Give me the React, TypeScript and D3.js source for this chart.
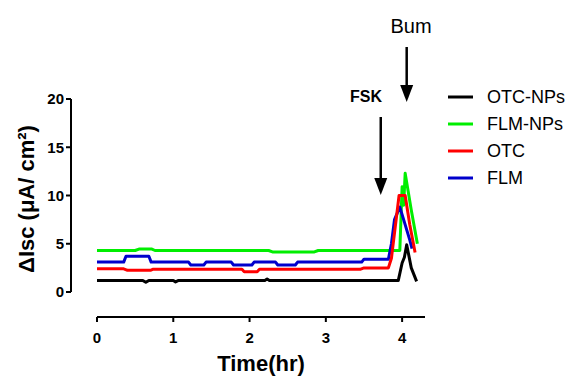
import React from "react";
import * as d3 from "d3";

type Pt = [number, number];

// time (hr), ΔIsc (μA/cm²)
const otcNps: Pt[] = [
  [0, 1.2], [0.6, 1.2], [0.64, 1.0], [0.68, 1.2], [1.0, 1.2], [1.03, 1.05], [1.07, 1.2],
  [2.2, 1.2], [2.23, 1.35], [2.26, 1.2], [3.95, 1.2], [4.0, 3.0], [4.03, 3.6],
  [4.06, 4.9], [4.12, 2.5], [4.19, 1.1],
];
const flmNps: Pt[] = [
  [0, 4.3], [0.5, 4.3], [0.55, 4.45], [0.72, 4.45], [0.76, 4.3], [2.25, 4.3], [2.3, 4.15],
  [2.85, 4.15], [2.9, 4.3], [3.97, 4.3], [4.0, 10.9], [4.02, 9.0], [4.04, 12.3],
  [4.12, 8.5], [4.2, 5.0],
];
const otc: Pt[] = [
  [0, 2.4], [0.35, 2.4], [0.4, 2.25], [0.7, 2.25], [0.73, 2.35], [1.9, 2.35], [1.93, 2.1],
  [2.1, 2.1], [2.13, 2.35], [3.45, 2.35], [3.5, 2.5], [3.82, 2.5], [3.86, 3.5],
  [3.96, 10.0], [4.04, 10.0], [4.1, 7.0], [4.17, 4.1],
];
const flm: Pt[] = [
  [0, 3.1], [0.35, 3.1], [0.38, 3.7], [0.68, 3.7], [0.71, 3.1], [1.2, 3.1], [1.23, 2.8],
  [1.4, 2.8], [1.43, 3.1], [1.76, 3.1], [1.79, 2.8], [2.03, 2.8], [2.06, 3.1],
  [2.34, 3.1], [2.37, 2.8], [2.6, 2.8], [2.63, 3.1], [3.47, 3.1], [3.5, 3.4],
  [3.82, 3.4], [3.86, 5.0], [3.9, 7.5], [3.97, 8.8], [4.02, 7.5], [4.1, 5.4], [4.13, 4.5],
];

const legendNames = ["OTC-NPs", "FLM-NPs", "OTC", "FLM"];
const colors = ["#000000", "#00ee00", "#ff0000", "#0000cc"];
const seriesData = [otcNps, flmNps, otc, flm];
const drawOrder = [1, 3, 2, 0];

const xTicks = [0, 1, 2, 3, 4];
const yTicks = [0, 5, 10, 15, 20];
const events = [
  { label: "FSK", t: 3.72, top: 117, tip: 195, textX: 366, textY: 102, bold: true, size: 16 },
  { label: "Bum", t: 4.06, top: 47, tip: 102, textX: 411, textY: 33, bold: false, size: 20 },
];

const App: React.FC = () => {
  const width = 570;
  const height = 376;
  const x = d3.scaleLinear().domain([0, 4.3]).range([97, 425]);
  const y = d3.scaleLinear().domain([0, 20]).range([292, 99]);
  const line = d3.line<Pt>().x(d => x(d[0])).y(d => y(d[1]));
  const axisX = 71;
  const axisY = 317;
  const font = "Arial, 'Liberation Sans', sans-serif";

  return (
    <svg width={width} height={height} style={{ position: "absolute", left: 0, top: 0 }}
      fontFamily={font}>
      <rect width={width} height={height} fill="#fff" />

      {/* y axis */}
      <line x1={axisX} x2={axisX} y1={y(0)} y2={y(20)} stroke="#000" strokeWidth={2} />
      {yTicks.map(t => (
        <g key={t}>
          <line x1={axisX - 5} x2={axisX} y1={y(t)} y2={y(t)} stroke="#000" strokeWidth={2} />
          <text x={axisX - 7} y={y(t)} dy="0.36em" textAnchor="end" fontSize={15}
            fontWeight="bold">{t}</text>
        </g>
      ))}

      {/* x axis */}
      <line x1={x(0)} x2={x(4.3)} y1={axisY} y2={axisY} stroke="#000" strokeWidth={2} />
      {xTicks.map(t => (
        <g key={t}>
          <line x1={x(t)} x2={x(t)} y1={axisY} y2={axisY + 5} stroke="#000" strokeWidth={2} />
          <text x={x(t)} y={axisY + 26} textAnchor="middle" fontSize={15}
            fontWeight="bold">{t}</text>
        </g>
      ))}

      <text x={261} y={371} textAnchor="middle" fontSize={22} fontWeight="bold">Time(hr)</text>
      <text transform={`translate(34,199) rotate(-90)`} textAnchor="middle" fontSize={22}
        fontWeight="bold">ΔIsc (μA/ cm²)</text>

      {/* traces */}
      {drawOrder.map(i => (
        <path key={i} d={line(seriesData[i]) || ""} fill="none" stroke={colors[i]}
          strokeWidth={3} strokeLinejoin="round" />
      ))}

      {/* event arrows */}
      {events.map(e => {
        const ex = x(e.t);
        return (
          <g key={e.label}>
            <text x={e.textX} y={e.textY} textAnchor="middle" fontSize={e.size}
              fontWeight={e.bold ? "bold" : "normal"}>{e.label}</text>
            <line x1={ex} x2={ex} y1={e.top} y2={e.tip - 14} stroke="#000" strokeWidth={2.5} />
            <path d={`M${ex - 6.5},${e.tip - 17} L${ex + 6.5},${e.tip - 17} L${ex},${e.tip} Z`}
              fill="#000" />
          </g>
        );
      })}

      {/* legend */}
      {legendNames.map((n, i) => {
        const ly = 97 + i * 27;
        return (
          <g key={n}>
            <line x1={448} x2={473} y1={ly} y2={ly} stroke={colors[i]} strokeWidth={3} />
            <text x={487} y={ly} dy="0.36em" fontSize={18}>{n}</text>
          </g>
        );
      })}
    </svg>
  );
};

export default App;
